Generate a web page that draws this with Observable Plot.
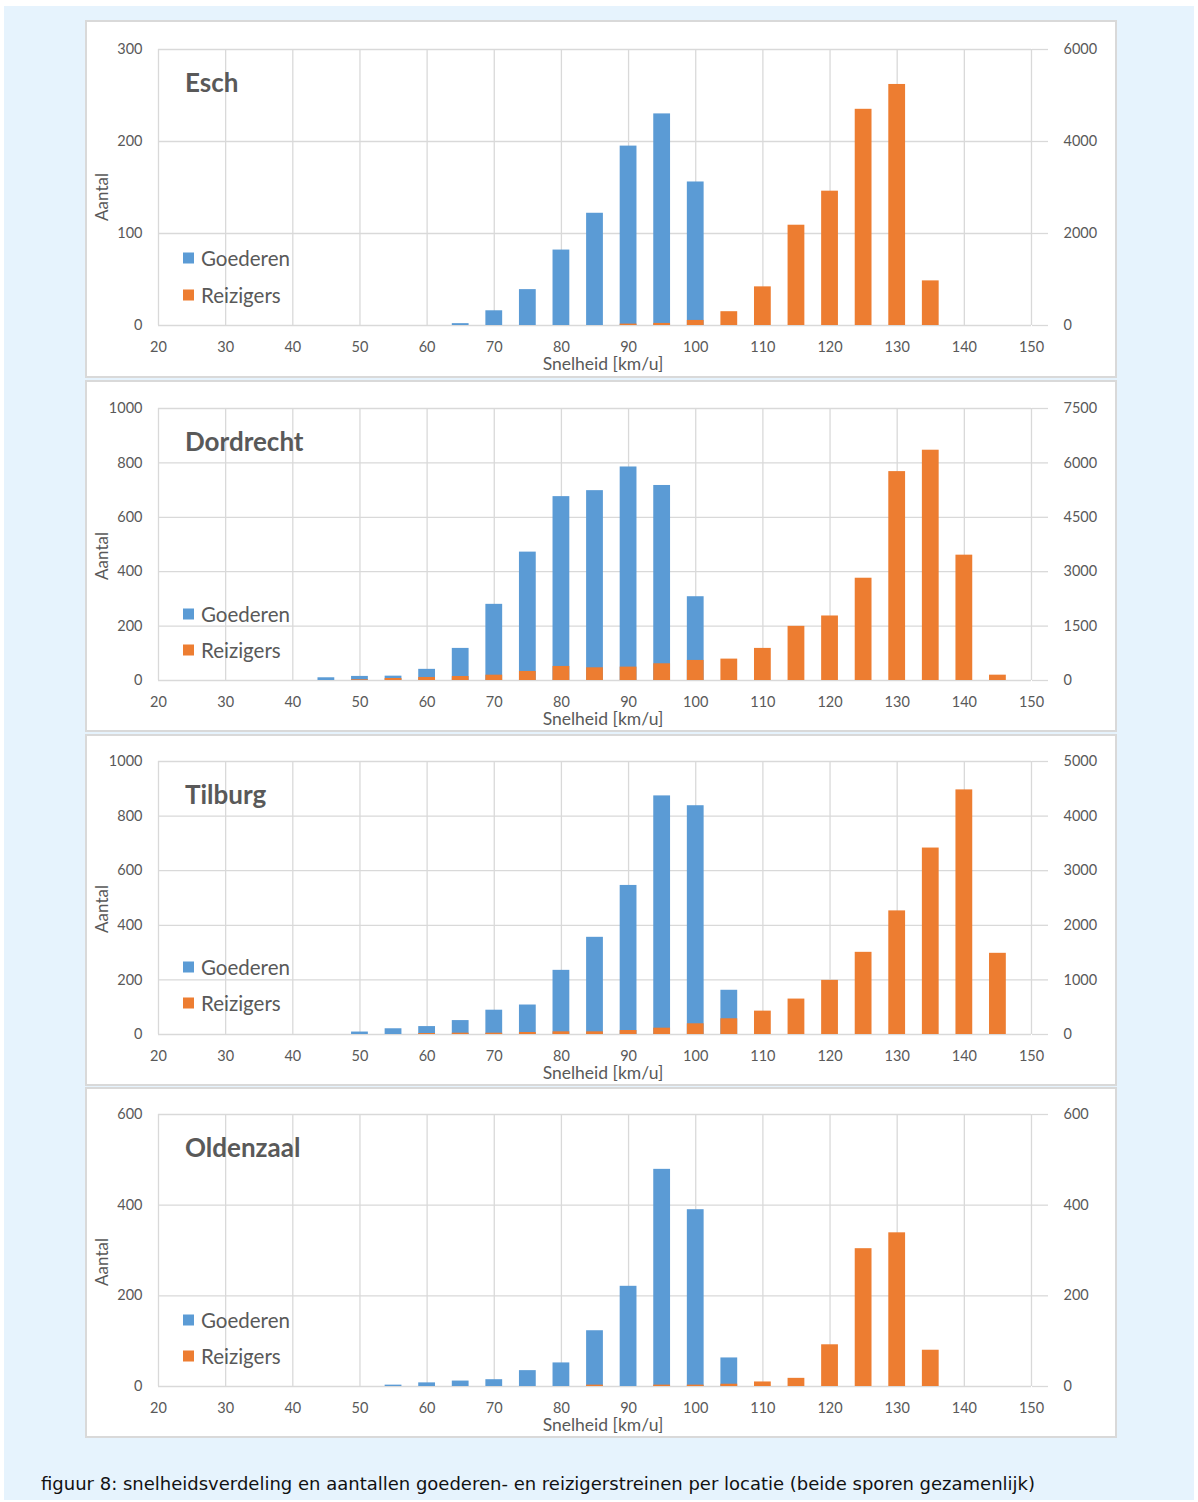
<!DOCTYPE html>
<html>
<head>
<meta charset="utf-8">
<script src="https://cdn.jsdelivr.net/npm/d3@7"></script>
<script src="https://cdn.jsdelivr.net/npm/@observablehq/plot@0.6"></script>
<style>
  html, body { margin: 0; padding: 0; background: #ffffff; }
  #page { position: relative; width: 1198px; height: 1502px; overflow: hidden; }
  #bg { position: absolute; left: 4px; top: 6px; width: 1190px; height: 1494px; background: #e6f3fd; }
  .box { position: absolute; left: 85px; width: 1032px; background: #ffffff; outline: 2px solid #d9d9d9; outline-offset: -2px; }
  .box svg { position: absolute; left: 0; top: 0; }
  .ov { position: absolute; white-space: nowrap; font-family: Lato, "Open Sans", sans-serif; color: #595959; line-height: 1; }
  .title { font-size: 26px; font-weight: bold; transform: translateY(-50%); }
  .leg { font-size: 20.5px; transform: translateY(-50%); }
  .sw { position: absolute; width: 11px; height: 11px; transform: translateY(-50%); }
  .ylab { font-size: 17px; transform: translate(-50%, -50%) rotate(-90deg); }
  .xlab { font-size: 17.5px; transform: translate(-50%, -50%); }
  #caption { position: absolute; left: 41px; top: 1483px; transform: translateY(-50%); font-family: "DejaVu Sans", sans-serif; font-size: 18px; color: #111; white-space: nowrap; }
</style>
</head>
<body>
<div id="page">
  <div id="bg"></div>
  <div id="caption">figuur 8: snelheidsverdeling en aantallen goederen- en reizigerstreinen per locatie (beide sporen gezamenlijk)</div>
</div>
<script>
// Speed bins (km/u)
const speeds = [45, 50, 55, 60, 65, 70, 75, 80, 85, 90, 95, 100, 105, 110, 115, 120, 125, 130, 135, 140, 145];
const xTicks = [20, 30, 40, 50, 60, 70, 80, 90, 100, 110, 120, 130, 140, 150];

// Esch
const eschGoederen  = [0, 0, 0, 0, 2, 16, 39, 82, 122, 195, 230, 156, 0, 0, 0, 0, 0, 0, 0, 0, 0];
const eschReizigers = [0, 0, 0, 0, 0, 0, 0, 0, 0, 30, 45, 110, 300, 840, 2180, 2920, 4700, 5240, 970, 0, 0];
const eschLeftTicks = [0, 100, 200, 300];
const eschRightTicks = [0, 2000, 4000, 6000];

// Dordrecht
const dordGoederen  = [10, 15, 16, 41, 118, 280, 472, 676, 698, 785, 717, 308, 0, 0, 0, 0, 0, 0, 0, 0, 0];
const dordReizigers = [0, 20, 55, 83, 110, 147, 249, 387, 350, 369, 461, 553, 590, 885, 1493, 1779, 2820, 5760, 6350, 3456, 147];
const dordLeftTicks = [0, 200, 400, 600, 800, 1000];
const dordRightTicks = [0, 1500, 3000, 4500, 6000, 7500];

// Tilburg
const tilbGoederen  = [0, 9, 21, 29, 51, 89, 108, 235, 356, 546, 874, 838, 162, 0, 0, 0, 0, 0, 0, 0, 0];
const tilbReizigers = [0, 0, 0, 18, 24, 24, 37, 49, 49, 73, 116, 196, 288, 428, 649, 991, 1505, 2264, 3415, 4480, 1487];
const tilbLeftTicks = [0, 200, 400, 600, 800, 1000];
const tilbRightTicks = [0, 1000, 2000, 3000, 4000, 5000];

// Oldenzaal
const oldeGoederen  = [0, 0, 3, 8, 12, 15, 35, 52, 123, 221, 479, 390, 63, 0, 0, 0, 0, 0, 0, 0, 0];
const oldeReizigers = [0, 0, 0, 0, 0, 0, 0, 0, 3, 0, 3, 3, 5, 10, 18, 92, 304, 339, 80, 0, 0];
const oldeLeftTicks = [0, 200, 400, 600];
const oldeRightTicks = [0, 200, 400, 600];

const locations = ["Esch", "Dordrecht", "Tilburg", "Oldenzaal"];
const seriesNames = ["Goederen", "Reizigers"];
const colors = ["#5b9bd5", "#ed7d31"];
const xLabel = "Snelheid [km/u]";
const yLabel = "Aantal";

const panels = [
  {name: locations[0], g: eschGoederen, r: eschReizigers, lt: eschLeftTicks, rt: eschRightTicks, top: 20, h: 358, mt: 29, mb: 53, legY: [209, 246]},
  {name: locations[1], g: dordGoederen, r: dordReizigers, lt: dordLeftTicks, rt: dordRightTicks, top: 380, h: 352, mt: 28, mb: 52, legY: [206, 242]},
  {name: locations[2], g: tilbGoederen, r: tilbReizigers, lt: tilbLeftTicks, rt: tilbRightTicks, top: 734, h: 352, mt: 27, mb: 52, legY: [206, 242]},
  {name: locations[3], g: oldeGoederen, r: oldeReizigers, lt: oldeLeftTicks, rt: oldeRightTicks, top: 1087, h: 351, mt: 27, mb: 52, legY: [206, 242]}
];

const page = document.getElementById("page");
const W = 1032, ML = 73, MR = 86;
const half = 1.25;

for (const p of panels) {
  const leftMax = p.lt[p.lt.length - 1];
  const rightMax = p.rt[p.rt.length - 1];
  const k = leftMax / rightMax;
  const rows = speeds.map((s, i) => ({s, g: p.g[i], r: p.r[i]}));
  const rightFmt = new Map(p.lt.map((t, i) => [t, String(p.rt[i])]));

  const chart = Plot.plot({
    width: W,
    height: p.h,
    marginLeft: ML,
    marginRight: MR,
    marginTop: p.mt,
    marginBottom: p.mb,
    style: {fontFamily: "Lato, 'Open Sans', sans-serif", fontSize: "14.5px", color: "#595959", background: "transparent", overflow: "visible"},
    x: {domain: [20, 150]},
    y: {domain: [0, leftMax]},
    marks: [
      Plot.gridX(xTicks, {stroke: "#d9d9d9", strokeOpacity: 1, strokeWidth: 1.3}),
      Plot.gridY(p.lt, {stroke: "#d9d9d9", strokeOpacity: 1, strokeWidth: 1.3}),
      Plot.axisX(xTicks, {anchor: "bottom", tickSize: 0, tickPadding: 16, label: null, fill: "#595959", tickFormat: d => String(d)}),
      Plot.axisY(p.lt, {anchor: "left", tickSize: 0, tickPadding: 16, label: null, fill: "#595959", tickFormat: d => String(d)}),
      Plot.axisY(p.lt, {anchor: "right", tickSize: 16, tickPadding: 16, stroke: "#d9d9d9", strokeOpacity: 1, strokeWidth: 1.3, label: null, fill: "#595959", tickFormat: d => rightFmt.get(d)}),
      Plot.rectY(rows.filter(d => d.g > 0), {x1: d => d.s - half, x2: d => d.s + half, y: "g", fill: colors[0]}),
      Plot.rectY(rows.filter(d => d.r > 0), {x1: d => d.s - half, x2: d => d.s + half, y: d => d.r * k, fill: colors[1]})
    ]
  });

  const box = document.createElement("div");
  box.className = "box";
  box.style.top = p.top + "px";
  box.style.height = p.h + "px";
  box.appendChild(chart);

  const plotH = p.h - p.mt - p.mb;
  const add = (cls, text, x, y) => {
    const d = document.createElement("div");
    d.className = "ov " + cls;
    d.textContent = text;
    d.style.left = x + "px";
    d.style.top = y + "px";
    box.appendChild(d);
    return d;
  };
  add("title", p.name, 100, p.mt + 33);
  seriesNames.forEach((n, i) => {
    const sw = document.createElement("div");
    sw.className = "sw";
    sw.style.left = "98px";
    sw.style.top = (p.mt + p.legY[i]) + "px";
    sw.style.background = colors[i];
    box.appendChild(sw);
    add("leg", n, 116, p.mt + p.legY[i]);
  });
  add("ylab", yLabel, 16, p.mt + 148);
  add("xlab", xLabel, 518, p.mt + plotH + 39);

  page.appendChild(box);
}
</script>
</body>
</html>
